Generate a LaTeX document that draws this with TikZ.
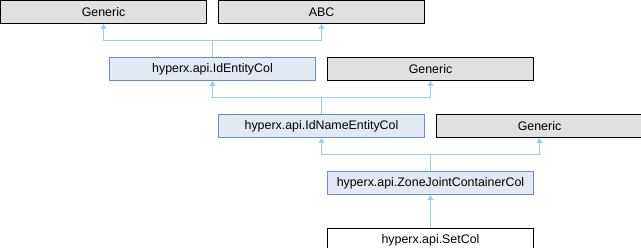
\documentclass[tikz,border=0pt]{standalone}
\usepackage{fontspec}
\setmainfont{Liberation Sans}
\usepackage{xcolor}
\definecolor{edgeblue}{HTML}{9CCDEA}
\definecolor{boxblue}{HTML}{6C8EC8}
\definecolor{fillblue}{HTML}{E2E8F4}
\definecolor{fillgray}{HTML}{E0E0E0}
\usepackage{tikz}
\usetikzlibrary{arrows.meta,positioning,calc}

\begin{document}
\begin{tikzpicture}[
    x=1pt, y=1pt,
    node distance=33pt and 11pt,
    every node/.style={font=\fontsize{12.4}{14}\selectfont, align=center, inner sep=0pt, line width=1pt},
    ext_box/.style={draw=black, fill=fillgray, minimum width=206pt, minimum height=23pt},
    cls_box/.style={draw=boxblue, fill=fillblue, minimum width=206pt, minimum height=23pt},
    cur_box/.style={draw=black, fill=white, minimum width=206pt, minimum height=23pt},
    inh_flow/.style={{Triangle[length=5pt,width=6pt]}-, line width=1pt, edgeblue}
]
  \useasboundingbox (-0.5,0.5) rectangle (640.5,-247.5);

  % Base Classes
  \node[ext_box] (generic_a) at (103,-11.5) {Generic};
  \node[ext_box, right=of generic_a] (abc) {ABC};

  % Derived Classes
  \node[cls_box, below=of $(generic_a.south)!0.5!(abc.south)$, anchor=north] (id_entity) {hyperx.api.IdEntityCol};
  \node[ext_box, right=of id_entity] (generic_b) {Generic};
  \node[cls_box, below=of $(id_entity.south)!0.5!(generic_b.south)$, anchor=north] (id_name) {hyperx.api.IdNameEntityCol};
  \node[ext_box, right=of id_name] (generic_c) {Generic};
  \node[cls_box, below=of $(id_name.south)!0.5!(generic_c.south)$, anchor=north] (zone_joint) {hyperx.api.ZoneJointContainerCol};
  \node[cur_box, below=of zone_joint] (set_col) {hyperx.api.SetCol};

  % Inheritance Edges
  \draw[inh_flow] (generic_a.south) |- ($(id_entity.north)+(0,16.5)$) -- (id_entity.north);
  \draw[inh_flow] (abc.south) |- ($(id_entity.north)+(0,16.5)$);
  \draw[inh_flow] (id_entity.south) |- ($(id_name.north)+(0,16.5)$) -- (id_name.north);
  \draw[inh_flow] (generic_b.south) |- ($(id_name.north)+(0,16.5)$);
  \draw[inh_flow] (id_name.south) |- ($(zone_joint.north)+(0,16.5)$) -- (zone_joint.north);
  \draw[inh_flow] (generic_c.south) |- ($(zone_joint.north)+(0,16.5)$);
  \draw[inh_flow] (zone_joint.south) -- (set_col.north);

\end{tikzpicture}
\end{document}
